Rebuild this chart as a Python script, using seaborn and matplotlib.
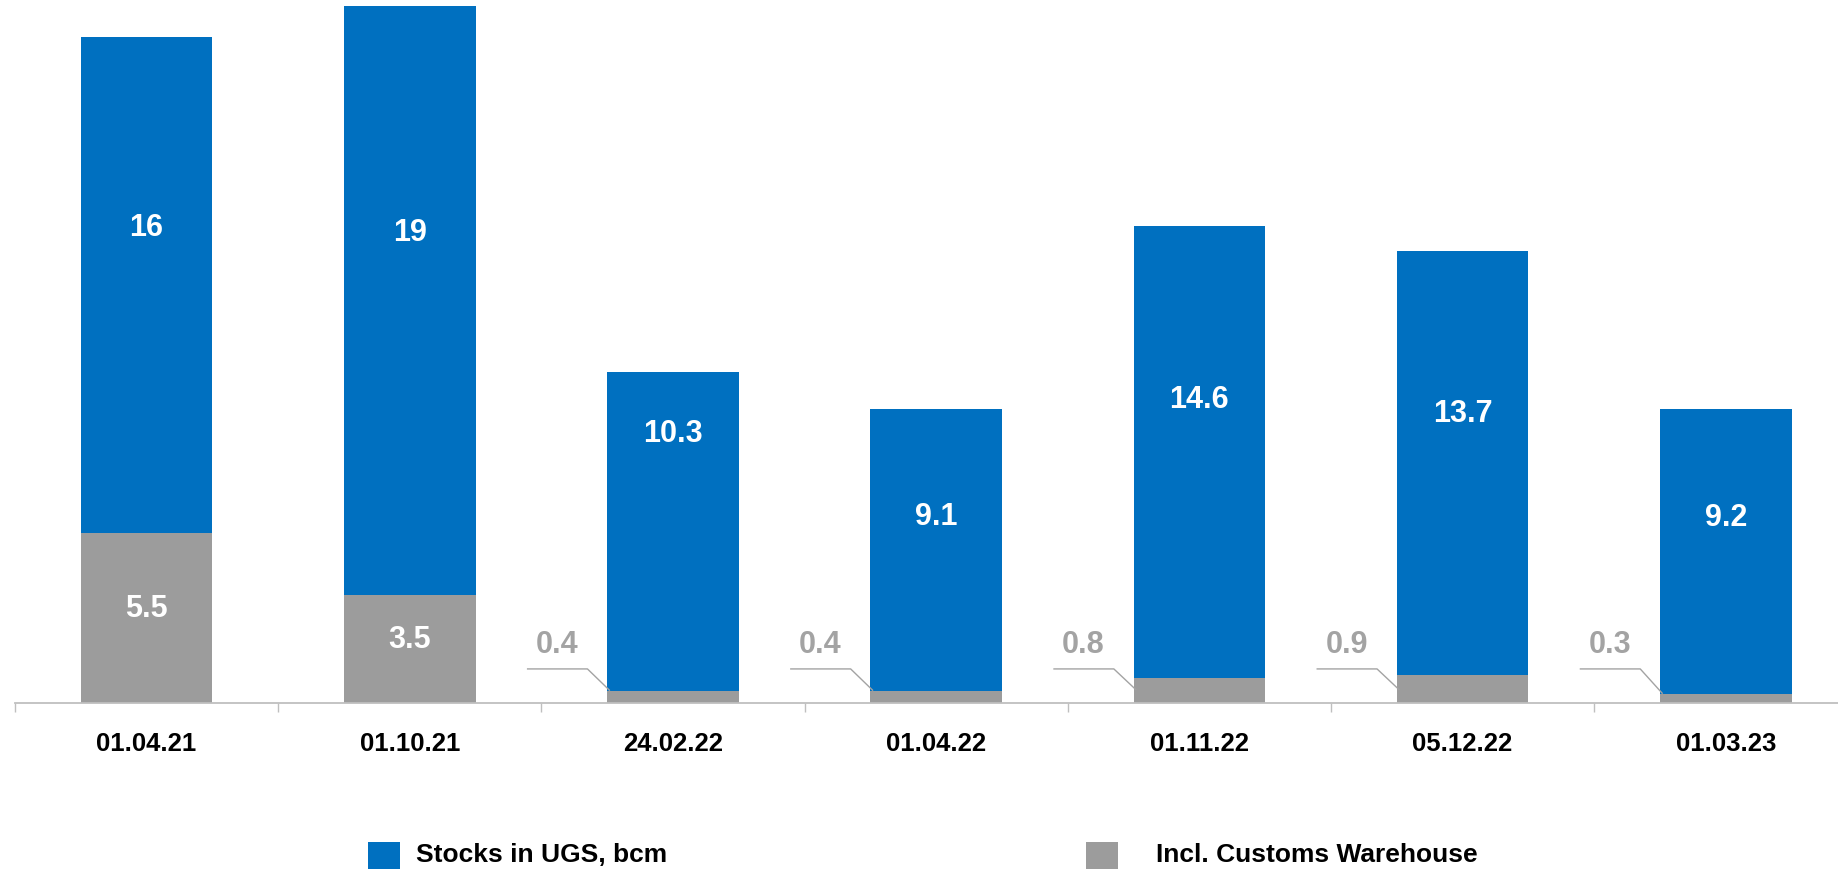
import matplotlib
matplotlib.use("Agg")
import matplotlib.pyplot as plt
import seaborn as sns
import pandas as pd
from matplotlib.patches import Rectangle

# Gas stored in underground storage (UGS), bcm
dates = ["01.04.21", "01.10.21", "24.02.22", "01.04.22", "01.11.22", "05.12.22", "01.03.23"]
ugs_stocks = [16, 19, 10.3, 9.1, 14.6, 13.7, 9.2]
customs_warehouse = [5.5, 3.5, 0.4, 0.4, 0.8, 0.9, 0.3]
legend_labels = ["Stocks in UGS, bcm", "Incl. Customs Warehouse"]

BLUE = "#0070C0"
GREY = "#9C9C9C"
LABEL_GREY = "#A3A3A3"
AXIS_GREY = "#BFBFBF"

sns.set_theme(style="white")
plt.rcParams["font.family"] = ["Liberation Sans", "DejaVu Sans"]

W, H = 1838, 869
fig = plt.figure(figsize=(W / 100, H / 100), dpi=100)
# plot area runs slightly past the right edge of the canvas
left_px, base_px = 15, 703
ax = fig.add_axes([left_px / W, (H - base_px) / H, (263.2 * 7) / W, base_px / H])

df = pd.DataFrame({"date": dates, "ugs": ugs_stocks, "customs": customs_warehouse})
df["total"] = df["ugs"] + df["customs"]

sns.barplot(data=df, x="date", y="total", color=BLUE, saturation=1, width=0.5,
            ax=ax, linewidth=0)
sns.barplot(data=df, x="date", y="customs", color=GREY, saturation=1, width=0.5,
            ax=ax, linewidth=0)

ax.set_xlim(-0.5, len(dates) - 0.5)
ax.set_ylim(0, 22.7)
ax.set_xlabel("")
ax.set_ylabel("")
ax.set_yticks([])
for s in ["left", "right", "top"]:
    ax.spines[s].set_visible(False)
ax.spines["bottom"].set_color(AXIS_GREY)
ax.spines["bottom"].set_linewidth(1.3)

# boundary ticks between categories, labels centred under the bars
n = len(dates)
ax.set_xticks([i - 0.5 for i in range(n + 1)])
ax.set_xticklabels([""] * (n + 1))
ax.tick_params(axis="x", which="major", direction="out", length=6.5, width=1,
               color=AXIS_GREY, bottom=True)
ax.set_xticks(range(n), minor=True)
ax.set_xticklabels(dates, minor=True, fontsize=18.5, fontweight="bold", color="black")
ax.tick_params(axis="x", which="minor", length=0, pad=21)

# value labels
for i, (ugs, cw) in enumerate(zip(ugs_stocks, customs_warehouse)):
    frac = 0.805 if i == 2 else 0.615
    ax.text(i, cw + frac * ugs, f"{ugs:g}", ha="center", va="center",
            color="white", fontsize=22, fontweight="bold")
    if cw >= 2:
        ax.text(i, cw / 2 + 0.3, f"{cw:g}", ha="center", va="center",
                color="white", fontsize=22, fontweight="bold")
    else:
        bar_left = i - 0.25
        ax.text(bar_left - 0.19, 1.88, f"{cw:g}", ha="center", va="center",
                color=LABEL_GREY, fontsize=22, fontweight="bold")
        ax.plot([bar_left - 0.305, bar_left - 0.075, bar_left + 0.01],
                [1.10, 1.10, min(cw, 0.42)], color=LABEL_GREY, lw=1,
                solid_capstyle="butt")

# legend along the bottom edge
def fig_box(x0, y0, w, h, color):
    fig.patches.append(Rectangle((x0 / W, 1 - (y0 + h) / H), w / W, h / H,
                                 transform=fig.transFigure, facecolor=color,
                                 edgecolor="none"))

fig_box(368, 842, 32, 32, BLUE)
fig.text(416 / W, 1 - 855 / H, legend_labels[0], ha="left", va="center",
         fontsize=19, fontweight="bold", color="black")
fig_box(1086, 842, 32, 32, GREY)
fig.text(1156 / W, 1 - 855 / H, legend_labels[1], ha="left", va="center",
         fontsize=19, fontweight="bold", color="black")

fig.savefig("out.png", dpi=100, facecolor="white")
